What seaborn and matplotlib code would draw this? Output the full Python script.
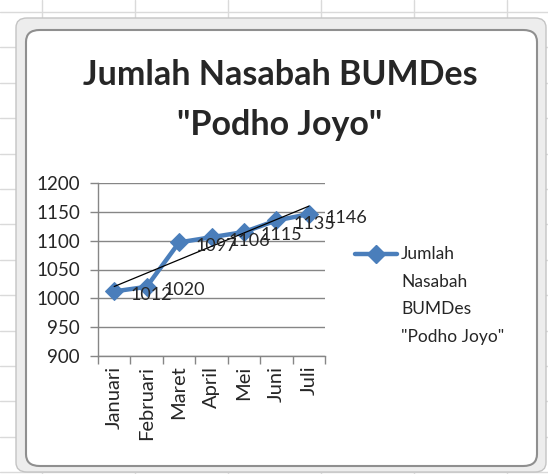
import numpy as np
import pandas as pd
import matplotlib
matplotlib.use("Agg")
import matplotlib.pyplot as plt
from matplotlib.lines import Line2D
from matplotlib.patches import FancyBboxPatch
import seaborn as sns

bulan = ["Januari", "Februari", "Maret", "April", "Mei", "Juni", "Juli"]
nasabah = [1012, 1020, 1097, 1106, 1115, 1135, 1146]
y_ticks = [900, 950, 1000, 1050, 1100, 1150, 1200]
judul = 'Jumlah Nasabah BUMDes\n"Podho Joyo"'
label_seri = 'Jumlah\nNasabah\nBUMDes\n"Podho Joyo"'

W, H = 548, 474
biru = "#4a7ebb"
abu = "#868686"

sns.set_style("white")
plt.rcParams["font.family"] = ["Lato", "DejaVu Sans"]

df = pd.DataFrame({"bulan": bulan, "nasabah": nasabah})
df["i"] = np.arange(len(df))

fig = plt.figure(figsize=(W / 100, H / 100), dpi=100)
fig.patch.set_facecolor("white")


def fx(px):
    return px / W


def fy(py):
    return 1 - py / H


# spreadsheet grid behind the chart
for k in range(14):
    yy = 12 + 35.4 * k
    fig.add_artist(Line2D([0, 1], [fy(yy), fy(yy)], color="#dadada", lw=1,
                          zorder=-5))
for k in range(6):
    xx = 42 + 93 * k
    fig.add_artist(Line2D([fx(xx), fx(xx)], [0, 1], color="#dadada", lw=1,
                          zorder=-5))

# chart frame
outer = FancyBboxPatch((fx(16), fy(472)), fx(530), 454 / H,
                       boxstyle="round,pad=0,rounding_size=0.02",
                       transform=fig.transFigure, facecolor="#ededed",
                       edgecolor="#c4c4c4", lw=1, zorder=-4)
fig.add_artist(outer)
inner = FancyBboxPatch((fx(26), fy(466)), fx(511), 436 / H,
                       boxstyle="round,pad=0,rounding_size=0.025",
                       transform=fig.transFigure, facecolor="white",
                       edgecolor="#8f8f8f", lw=1.5, zorder=-3)
fig.add_artist(inner)

ax = fig.add_axes([fx(98), fy(356), fx(325 - 98), (356 - 183) / H])
ax.set_facecolor("none")

sns.lineplot(data=df, x="i", y="nasabah", ax=ax, color=biru, lw=3.2,
             marker="D", markersize=9, markeredgecolor=biru, zorder=3)

# linear trendline
coef = np.polyfit(df["i"], df["nasabah"], 1)
ax.plot(df["i"], np.polyval(coef, df["i"]), color="black", lw=0.9, zorder=4)

for i, v in zip(df["i"], df["nasabah"]):
    ax.annotate(str(v), (i, v), xytext=(12, -2.5), textcoords="offset points",
                ha="left", va="center", fontsize=13, zorder=5,
                annotation_clip=False)

ax.set_xlim(-0.5, len(bulan) - 0.5)
ax.set_ylim(900, 1200)
ax.set_yticks(y_ticks)
ax.set_xticks(df["i"])
ax.set_xticklabels(bulan, rotation=90, fontsize=14.5)
ax.set_xticks(np.arange(-0.5, len(bulan)), minor=True)
ax.tick_params(axis="x", which="major", length=0, pad=7)
ax.tick_params(axis="x", which="minor", length=6, color=abu, width=1,
               direction="out", bottom=True)
ax.tick_params(axis="y", length=6, color=abu, width=1, direction="out",
               left=True, labelsize=13.5, pad=7)
ax.yaxis.grid(True, color=abu, lw=1)
ax.xaxis.grid(False)
ax.set_xlabel("")
ax.set_ylabel("")
for s in ["top", "right"]:
    ax.spines[s].set_visible(False)
for s in ["left", "bottom"]:
    ax.spines[s].set_color(abu)
    ax.spines[s].set_linewidth(1)

fig.text(fx(280), fy(100), judul, ha="center", va="center", fontsize=24.5,
         fontweight="bold", linespacing=1.72)

# legend entry drawn by hand to keep the marker at the first line
fig.add_artist(Line2D([fx(355), fx(376), fx(397)], [fy(254)] * 3, color=biru,
                      lw=3.2, marker="D", markersize=9, markevery=[1]))
fig.text(fx(401), fy(246), label_seri, ha="left", va="top", fontsize=12.5,
         linespacing=1.9)

fig.savefig("out.png", dpi=100)
